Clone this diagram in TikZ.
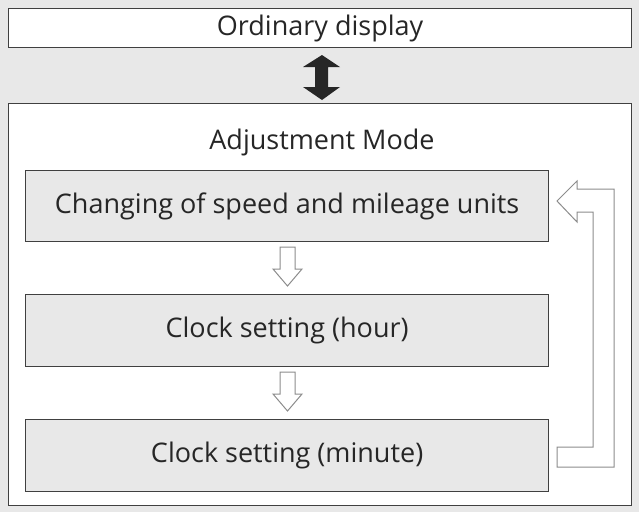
\documentclass[tikz,border=0pt]{standalone}
\usepackage{fontspec}
\setmainfont{Open Sans}
\begin{document}
\begin{tikzpicture}[x=1pt,y=-1pt,
  frame/.style={draw=black!75,line width=1.2pt},
  lbl/.style={font=\fontsize{27}{30}\selectfont,text=black!85},
  hollow/.style={draw=black!45,fill=white,line width=1pt,line join=miter}]
\fill[black!9] (0,0) rectangle (639,512);
\useasboundingbox (0,0) rectangle (639,512);
\node[frame,fill=white,minimum width=623,minimum height=39,inner sep=0,anchor=north west,lbl] (top) at (8,8) {Ordinary display};
\node[frame,fill=white,minimum width=623,minimum height=402,inner sep=0,anchor=north west] (main) at (8,103) {};
\node[lbl,anchor=center] (title) at (322,142) {Adjustment Mode};
\node[frame,fill=black!9,minimum width=523,minimum height=71,inner sep=0,anchor=north west,lbl] (b1) at (25,170) {Changing of speed and mileage units};
\node[frame,fill=black!9,minimum width=523,minimum height=72,inner sep=0,anchor=north west,lbl] (b2) at (25,294) {Clock setting (hour)};
\node[frame,fill=black!9,minimum width=523,minimum height=72,inner sep=0,anchor=north west,lbl] (b3) at (25,419) {Clock setting (minute)};
% double arrow
\fill[black!85] (322,55) -- (340,67) -- (328,67) -- (328,87) -- (340,87) -- (322,100) -- (303,87) -- (315,87) -- (315,67) -- (303,67) -- cycle;
% down hollow arrows
\foreach \y in {247,372}{
  \draw[hollow] (280,\y) -- (295,\y) -- (295,\y+22) -- (302,\y+22) -- (287.5,\y+39) -- (273,\y+22) -- (280,\y+22) -- cycle;}
% return loop
\draw[hollow] (557,201) -- (577,181) -- (577,189) -- (614,189) -- (614,467) -- (557,467) -- (557,447) -- (593,447) -- (593,212) -- (577,212) -- (577,222) -- cycle;
\end{tikzpicture}
\end{document}
